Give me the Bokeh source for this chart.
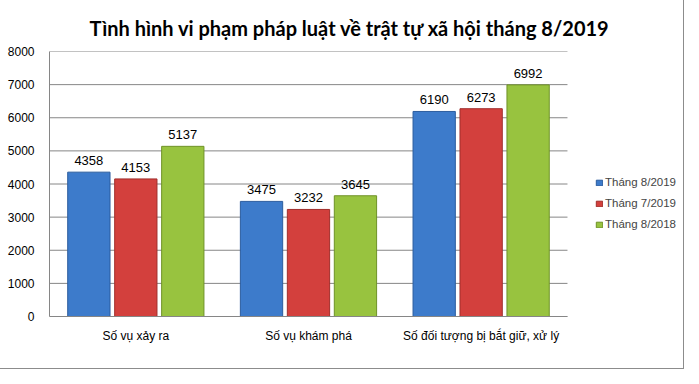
from bokeh.plotting import figure
from bokeh.models import ColumnDataSource, Legend, LegendItem, LabelSet, Range1d, FixedTicker, Title
from bokeh.transform import dodge
from bokeh.core.properties import value
from bokeh.embed import file_html
from bokeh.resources import INLINE

categories = ["Số vụ xảy ra", "Số vụ khám phá", "Số đối tượng bị bắt giữ, xử lý"]
series_names = ["Tháng 8/2019", "Tháng 7/2019", "Tháng 8/2018"]
aug2019 = [4358, 3475, 6190]
jul2019 = [4153, 3232, 6273]
aug2018 = [5137, 3645, 6992]
y_ticks = [0, 1000, 2000, 3000, 4000, 5000, 6000, 7000, 8000]
title_text = "Tình hình vi phạm pháp luật về trật tự xã hội tháng 8/2019"

colors = ["#3D7BCB", "#D3403D", "#98C33F"]
edges = ["#2B5C9E", "#A02E2C", "#6F9227"]

n = len(categories)
xpos = [i + 0.5 for i in range(n)]

src = ColumnDataSource(dict(x=xpos, a=aug2019, b=jul2019, c=aug2018,
                            la=[str(v) for v in aug2019],
                            lb=[str(v) for v in jul2019],
                            lc=[str(v) for v in aug2018]))

p = figure(x_range=Range1d(0, n + 0.672), y_range=Range1d(0, 8000),
           width=683, height=368, output_backend="svg", toolbar_location=None,
           min_border_left=49, min_border_right=0, min_border_top=51, min_border_bottom=52)
p.outline_line_color = None
p.border_fill_color = "white"
p.background_fill_color = "white"
p.styles = {"outline": "1px solid #8c8c8c"}

# grid lines across the category area only
p.segment(x0=[0] * len(y_ticks), x1=[n] * len(y_ticks), y0=y_ticks, y1=y_ticks,
          line_color="#868686", line_width=1)

offsets = [-0.272, 0.0, 0.272]
cols = ["a", "b", "c"]
lcols = ["la", "lb", "lc"]
items = []
for i in range(3):
    r = p.vbar(x=dodge("x", offsets[i]), top=cols[i], width=0.245, source=src,
               fill_color=colors[i], line_color=edges[i], line_width=1)
    items.append(LegendItem(label=series_names[i], renderers=[r]))
    p.add_layout(LabelSet(x=dodge("x", offsets[i]), y=cols[i], text=lcols[i],
                          source=src, text_align="center", text_baseline="bottom", y_offset=7,
                          text_font=value("Liberation Sans"), text_font_size="13px", text_color="black"))

p.yaxis.ticker = FixedTicker(ticks=y_ticks)
p.yaxis.major_tick_line_color = None
p.yaxis.minor_tick_line_color = None
p.yaxis.axis_line_color = "#868686"
p.yaxis.major_label_text_font = "Liberation Sans"
p.yaxis.major_label_text_font_size = "12px"
p.yaxis.major_label_text_color = "black"
p.yaxis.major_label_standoff = 9

p.xaxis.ticker = FixedTicker(ticks=xpos)
p.xaxis.major_label_overrides = {x: c for x, c in zip(xpos, categories)}
p.xaxis.bounds = (0, n)
p.xaxis.major_tick_line_color = None
p.xaxis.minor_tick_line_color = None
p.xaxis.axis_line_color = "#868686"
p.xaxis.major_label_text_font = "Liberation Sans"
p.xaxis.major_label_text_font_size = "12px"
p.xaxis.major_label_text_color = "black"
p.xaxis.major_label_standoff = 6
p.xgrid.grid_line_color = None
p.ygrid.grid_line_color = None

legend = Legend(items=items, location=(546, 86), border_line_color=None, background_fill_alpha=0,
                label_text_font="Liberation Sans", label_text_font_size="11.5px",
                glyph_width=8, glyph_height=7, label_standoff=2, spacing=9, padding=2, margin=0,
                label_height=12)
p.add_layout(legend, "center")

p.add_layout(Title(text=title_text, align="left", offset=40, standoff=24, text_font="Lato",
                   text_font_style="bold", text_font_size="20px", text_color="black"), "above")

open("out.html", "w").write(file_html(p, INLINE))
